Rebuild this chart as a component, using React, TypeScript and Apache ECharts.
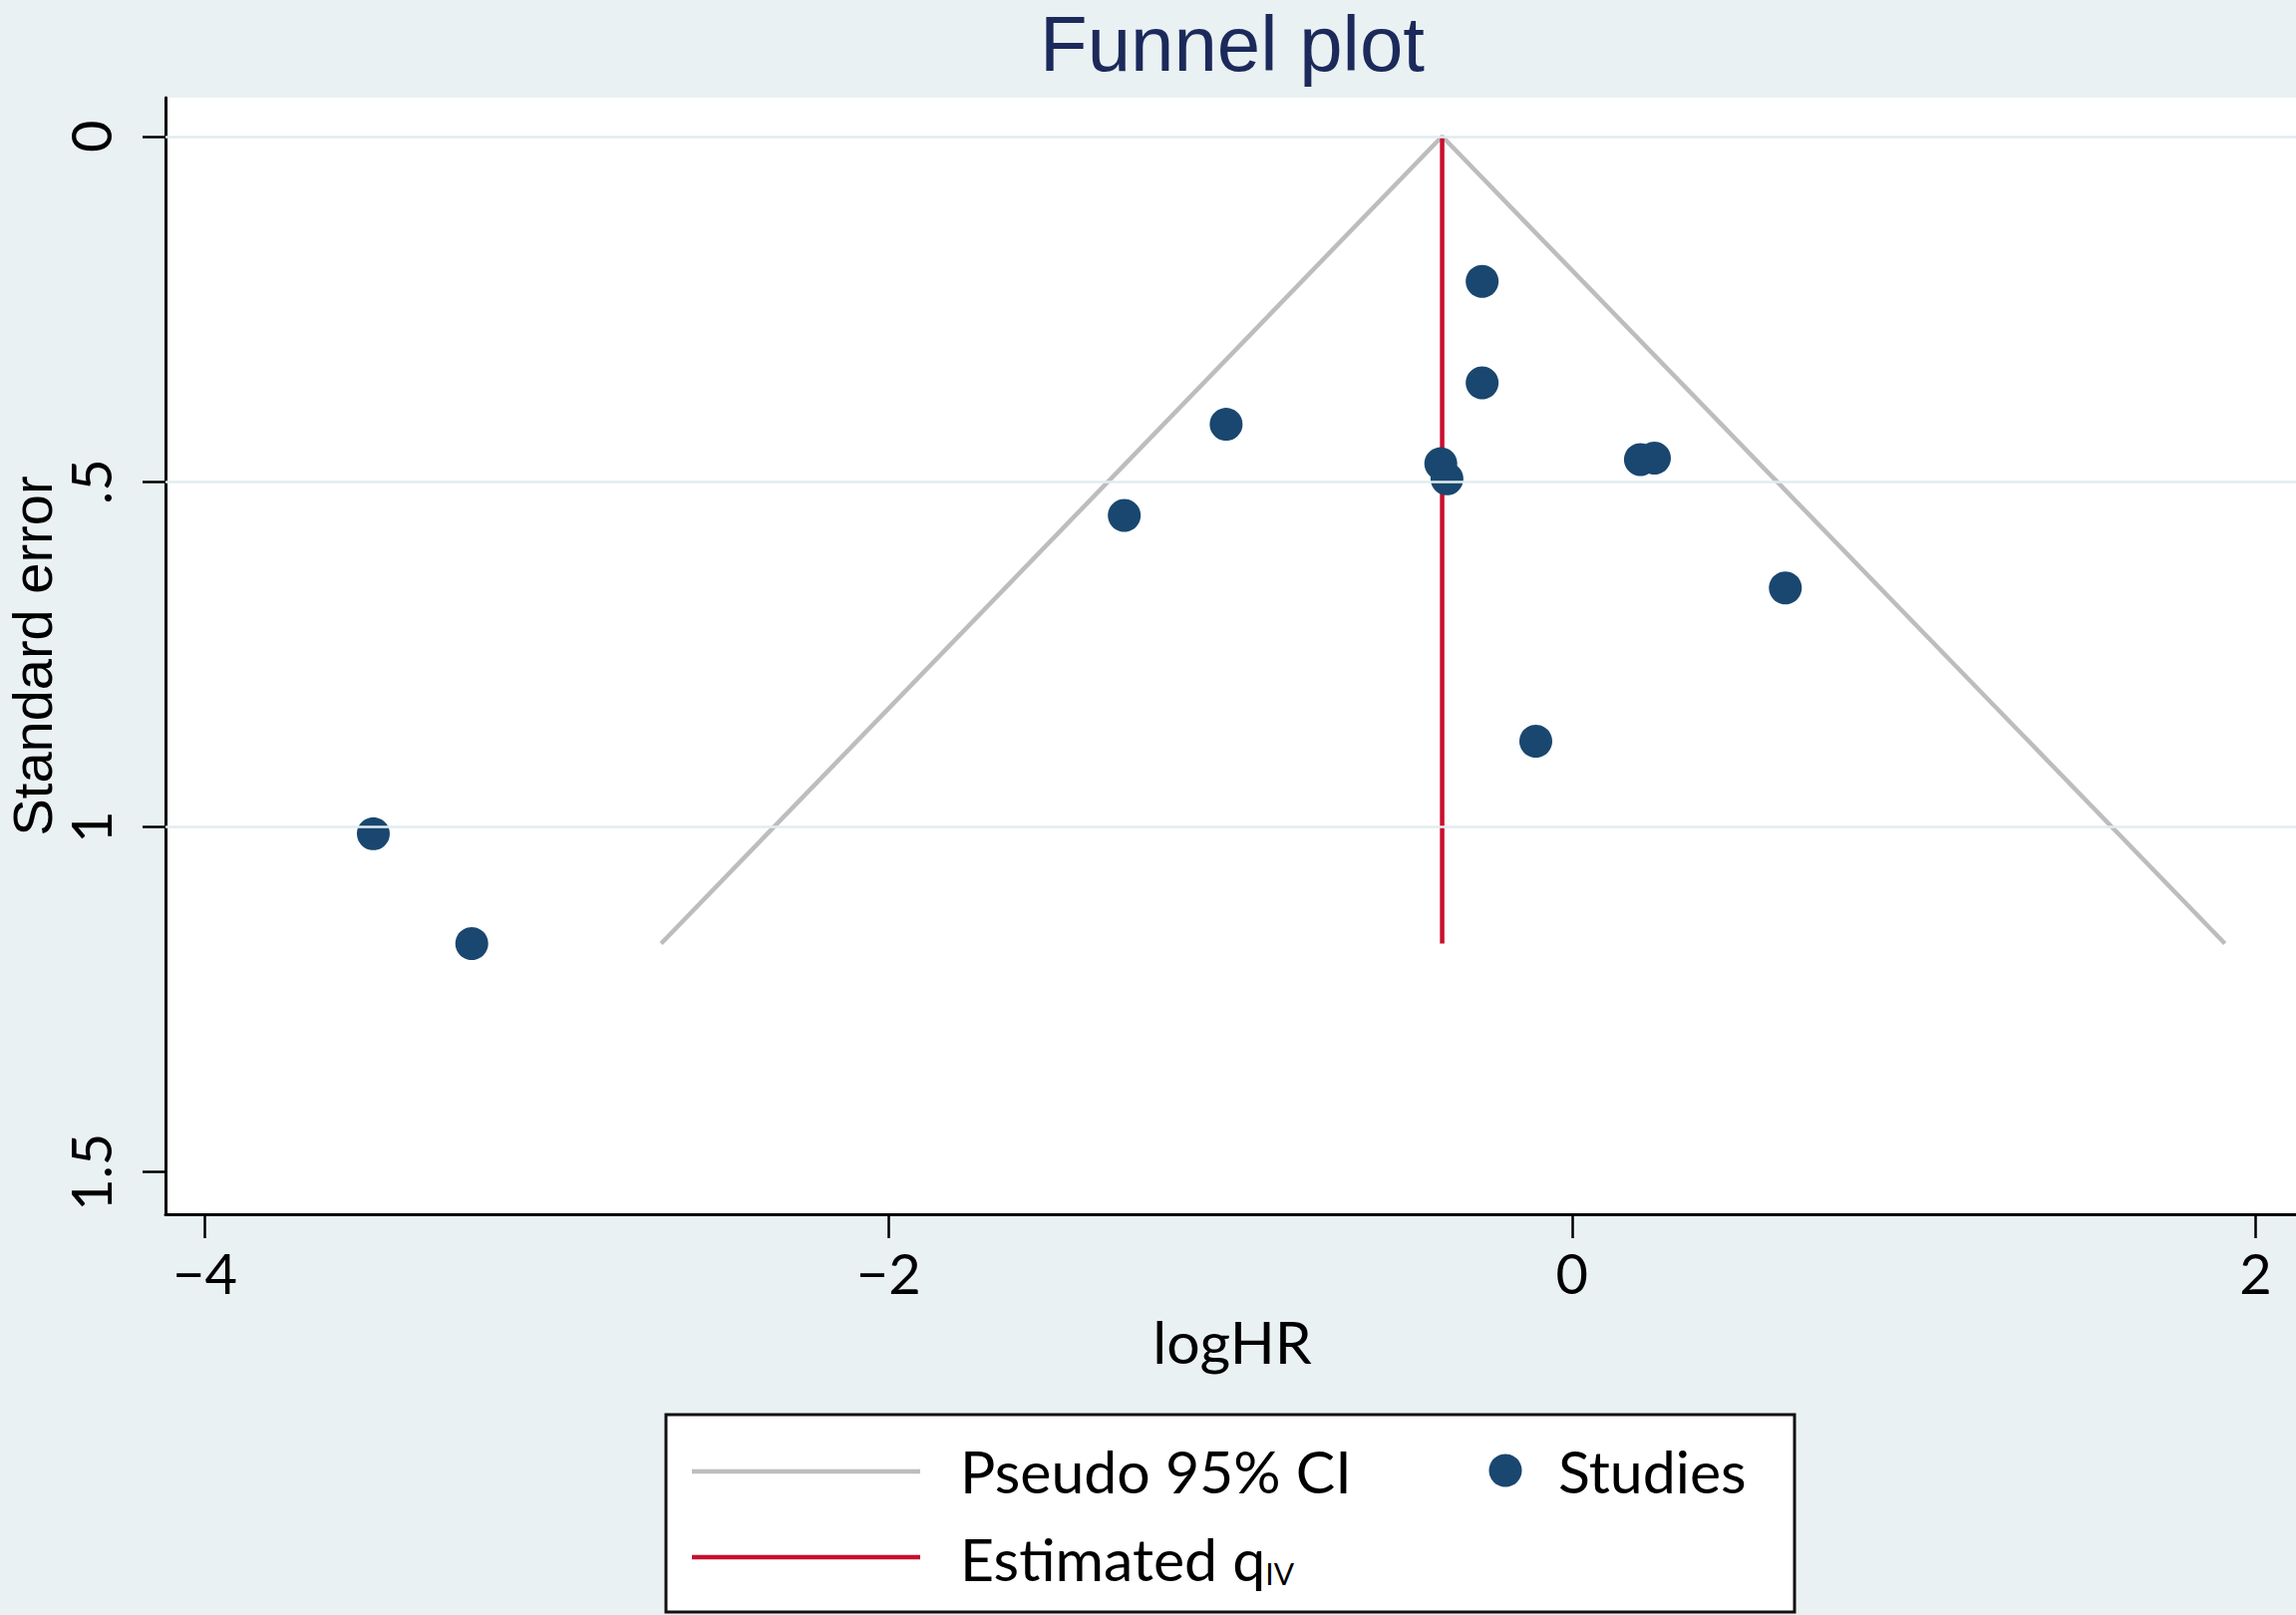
import React, { useEffect, useRef } from "react";
import * as echarts from "echarts";

// ---- data ----
const studyLogHR = [-0.263, -0.263, -1.012, -0.384, -0.366, 0.2, 0.241, -1.31, 0.624, -0.106, -3.507, -3.219];
const studySE = [0.21, 0.357, 0.417, 0.474, 0.496, 0.468, 0.466, 0.549, 0.654, 0.876, 1.01, 1.169];
const funnelLogHR = [-2.665, -0.38, 1.91];
const funnelSE = [1.169, 0, 1.169];
const estimateLogHR = [-0.38, -0.38];
const estimateSE = [0, 1.169];
const xTicks = [-4, -2, 0, 2];
const yTicks = [0, 0.5, 1, 1.5];
const yGrid = [0, 0.5, 1];

const FONT = "Lato, 'Liberation Sans', sans-serif";
const FONT2 = "'Liberation Sans', Lato, sans-serif";
const BG = "#EAF1F3";
const NAVY = "#1A476F";
const RED = "#C8102E";
const GRAY = "#BDBDBD";

export default function App() {
  const ref = useRef<HTMLDivElement>(null);
  useEffect(() => {
    if (!ref.current) return;
    const chart = echarts.init(ref.current, undefined, { renderer: "svg" });
    const zip = (a: number[], b: number[]) => a.map((v, i) => [v, b[i]]);
    chart.setOption({
      animation: false,
      backgroundColor: BG,
      textStyle: { fontFamily: FONT },
      grid: {
        left: 166,
        top: 98,
        right: 0,
        bottom: 402,
        show: true,
        backgroundColor: "#FFFFFF",
        borderWidth: 0,
        containLabel: false,
      },
      xAxis: {
        type: "value",
        min: -4.115,
        max: 2.118,
        splitLine: { show: false },
        axisLine: { show: true, onZero: false, lineStyle: { color: "#000", width: 3 } },
        axisTick: { show: true, length: 24, lineStyle: { color: "#000", width: 2.5 }, customValues: xTicks },
        axisLabel: {
          customValues: xTicks,
          margin: 30,
          fontSize: 56,
          color: "#000",
          fontFamily: FONT,
          formatter: (v: number) => (v < 0 ? "\u2212" + Math.abs(v) : String(v)),
        },
      },
      yAxis: {
        type: "value",
        inverse: true,
        min: -0.056,
        max: 1.561,
        splitLine: { show: false },
        axisLine: { show: true, onZero: false, lineStyle: { color: "#000", width: 3 } },
        axisTick: { show: true, length: 23, lineStyle: { color: "#000", width: 2.5 }, customValues: yTicks },
        axisLabel: {
          customValues: yTicks,
          rotate: 90,
          margin: 48,
          fontSize: 56,
          color: "#000",
          fontFamily: FONT,
          formatter: (v: number) => {
            const s = String(v);
            return s.startsWith("0.") ? s.slice(1) : s;
          },
        },
      },
      series: [
        {
          type: "line",
          data: [],
          z: 1,
          silent: true,
          markLine: {
            silent: true,
            symbol: "none",
            label: { show: false },
            lineStyle: { color: "#E2ECEF", width: 2.5, type: "solid" },
            data: yGrid.map((v) => ({ yAxis: v })),
          },
        },
        {
          type: "line",
          data: zip(funnelLogHR, funnelSE),
          z: 2,
          symbol: "none",
          silent: true,
          lineStyle: { color: GRAY, width: 4.5 },
        },
        {
          type: "line",
          data: zip(estimateLogHR, estimateSE),
          z: 3,
          symbol: "none",
          silent: true,
          lineStyle: { color: RED, width: 4.5 },
        },
        {
          type: "scatter",
          data: zip(studyLogHR, studySE),
          z: 4,
          symbol: "circle",
          symbolSize: 33,
          itemStyle: { color: NAVY, opacity: 1 },
        },
      ],
      graphic: [
        {
          type: "text",
          x: 1236,
          y: 44,
          style: {
            text: "Funnel plot",
            fill: "#1B2A5A",
            font: `78px ${FONT2}`,
            align: "center",
            verticalAlign: "middle",
          },
        },
        {
          type: "text",
          x: 1236,
          y: 1345,
          style: { text: "logHR", fill: "#000", font: `59px ${FONT}`, align: "center", verticalAlign: "middle" },
        },
        {
          type: "text",
          x: 32,
          y: 658,
          rotation: Math.PI / 2,
          style: {
            text: "Standard error",
            fill: "#000",
            font: `56px ${FONT2}`,
            align: "center",
            verticalAlign: "middle",
          },
        },
        {
          type: "rect",
          shape: { x: 668, y: 1419, width: 1132, height: 198 },
          style: { fill: "#FFFFFF", stroke: "#111", lineWidth: 3 },
        },
        {
          type: "line",
          shape: { x1: 694, y1: 1476, x2: 923, y2: 1476 },
          style: { stroke: GRAY, lineWidth: 4.5 },
        },
        {
          type: "text",
          x: 963,
          y: 1475,
          style: { text: "Pseudo 95% CI", fill: "#000", font: `59px ${FONT}`, align: "left", verticalAlign: "middle" },
        },
        {
          type: "circle",
          shape: { cx: 1510, cy: 1475, r: 16.5 },
          style: { fill: NAVY },
        },
        {
          type: "text",
          x: 1563,
          y: 1475,
          style: { text: "Studies", fill: "#000", font: `59px ${FONT}`, align: "left", verticalAlign: "middle" },
        },
        {
          type: "line",
          shape: { x1: 694, y1: 1562, x2: 923, y2: 1562 },
          style: { stroke: RED, lineWidth: 4.5 },
        },
        {
          type: "text",
          x: 963,
          y: 1563,
          style: {
            text: "{a|Estimated q}{b|IV}",
            align: "left",
            verticalAlign: "middle",
            rich: {
              a: { fontSize: 59, fontFamily: FONT, fill: "#000", lineHeight: 59, verticalAlign: "middle" },
              b: { fontSize: 30, fontFamily: FONT, fill: "#000", lineHeight: 30, verticalAlign: "bottom" },
            },
          },
        },
      ],
    });
    return () => chart.dispose();
  }, []);
  return <div ref={ref} style={{ position: "fixed", left: 0, top: 0, width: 2303, height: 1620 }} />;
}
